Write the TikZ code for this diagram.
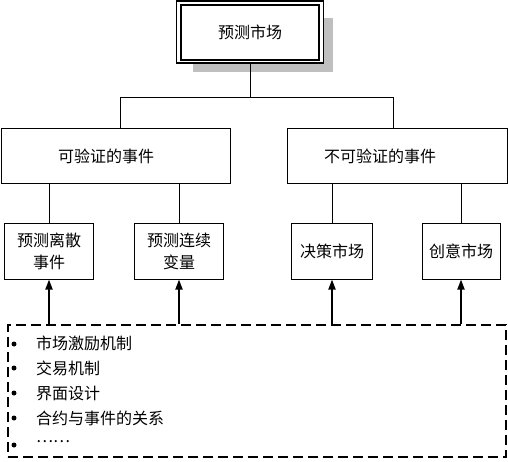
\documentclass[tikz,border=0pt]{standalone}
\usepackage{fontspec}
\newfontfamily\cjk{Noto Sans CJK SC}
\usetikzlibrary{arrows.meta}
\begin{document}
\begin{tikzpicture}[x=1pt,y=-1pt,
  box/.style={draw,line width=1pt,inner sep=0pt,align=center,font=\cjk\fontsize{16}{22}\selectfont},
  txt/.style={inner sep=0pt,font=\cjk\fontsize{16}{18}\selectfont},
  lbl/.style={inner sep=0pt,anchor=west,font=\cjk\fontsize{16}{18}\selectfont},
  conn/.style={line width=1pt},
  up/.style={line width=1.8pt,-{Triangle[length=10pt,width=7pt]}},
  dbox/.style={draw,line width=1.6pt,dash pattern=on 10pt off 5pt,inner sep=0pt},
  dot/.style={fill,circle,inner sep=0pt,minimum size=5pt}
]
\useasboundingbox (0,0) rectangle (508,461);
% root with shadow and double frame
\fill[gray!50] (193,18) rectangle (333,72);
\node[draw,fill=white,line width=1.8pt,minimum width=147pt,minimum height=62pt,inner sep=0pt] (root) at (250,32) {};
\node[box,line width=1.2pt,minimum width=138pt,minimum height=55pt] (rootin) at (250,32.5) {预测市场};
% level 2
\node[box,minimum width=229pt,minimum height=55pt] (L) at (115.5,155.5) {};
\node[txt] (Lt) at (106,156) {可验证的事件};
\node[box,minimum width=220pt,minimum height=55pt] (R) at (397,155.5) {};
\node[txt] (Rt) at (380,156) {不可验证的事件};
% level 3
\node[box,minimum width=89pt,minimum height=56pt] (b1) at (49,251) {预测离散\\事件};
\node[box,minimum width=89pt,minimum height=56pt] (b2) at (179,251) {预测连续\\变量};
\node[box,minimum width=81pt,minimum height=56pt] (b3) at (332,251) {决策市场};
\node[box,minimum width=78pt,minimum height=56pt] (b4) at (461,251) {创意市场};
% mechanisms box
\node[dbox,minimum width=498pt,minimum height=132pt] (mech) at (257,391) {};
% tree connectors
\coordinate (j) at (250,97);
\draw[conn] (root.south) -- (j);
\draw[conn] (j) -| ([xshift=4.5pt]L.north);
\draw[conn] (j) -| ([xshift=-4pt]R.north);
\draw[conn] (b1.north |- L.south) -- (b1.north);
\draw[conn] (b2.north |- L.south) -- (b2.north);
\draw[conn] (b3.north |- R.south) -- (b3.north);
\draw[conn] (b4.north |- R.south) -- (b4.north);
% arrows
\draw[up] (b1.south |- mech.north) -- (b1.south);
\draw[up] (b2.south |- mech.north) -- (b2.south);
\draw[up] (b3.south |- mech.north) -- (b3.south);
\draw[up] (b4.south |- mech.north) -- (b4.south);
% list
\node[dot] (d1) at (14,344) {};
\node[dot] (d2) at (14,368) {};
\node[dot] (d3) at (14,393) {};
\node[dot] (d4) at (14,418) {};
\node[dot] (d5) at (14,445) {};
\node[lbl] (i1) at (36,343) {市场激励机制};
\node[lbl] (i2) at (36,368) {交易机制};
\node[lbl] (i3) at (36,393) {界面设计};
\node[lbl] (i4) at (36,418) {合约与事件的关系};
\node[lbl] (i5) at (36,442) {……};
\end{tikzpicture}
\end{document}
